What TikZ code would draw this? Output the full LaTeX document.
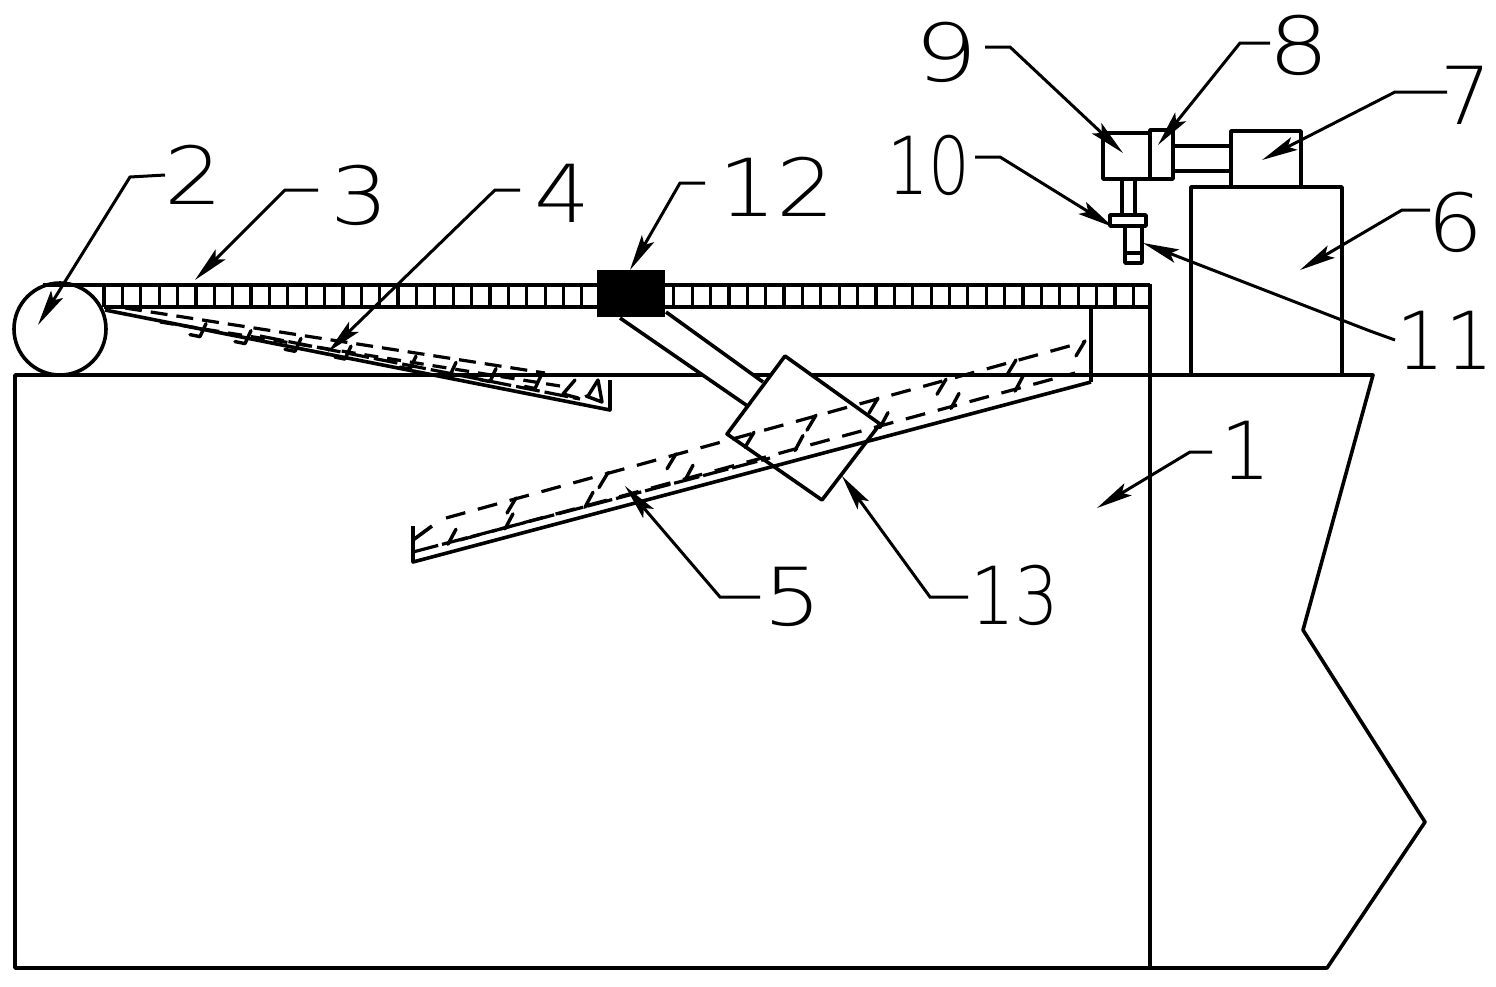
\documentclass[tikz,border=0pt]{standalone}
\usepackage{fontspec}
\usepackage{graphicx}
\newfontfamily\labfont{DejaVu Sans ExtraLight}
\usetikzlibrary{arrows.meta}
\tikzset{
  part/.style={draw=black,line width=3.6pt,line join=round},
  thin part/.style={draw=black,line width=3.2pt},
  hatch/.style={draw=black,line width=3.4pt,line cap=round,line join=round},
  dashrow/.style={draw=black,line width=3.2pt,dash pattern=on 20pt off 13pt},
  leaderline/.style={draw=black,line width=3pt,-{Stealth[length=36pt,width=14pt,inset=7pt]}},
  numlabel/.style={font=\labfont\fontsize{80}{84}\selectfont,inner sep=0pt,text=black}
}
\newcommand{\leadto}[7]{%
  \node[numlabel] (lab#1) at (#4) {\scalebox{#3}[1]{#2}};
  \coordinate (start#1) at (#5);
  \coordinate (elbow#1) at (#6);
  \coordinate (tip#1) at (#7);
  \draw[leaderline] (start#1) -- (elbow#1) -- (tip#1);
}
\begin{document}
\begin{tikzpicture}[x=1pt,y=-1pt]
\useasboundingbox (0,0) rectangle (1496,986);
\fill[white] (0,0) rectangle (1496,986);
% body
\draw[part] (15,375) -- (1373,375) -- (1303,630) -- (1425,822) -- (1327,968) -- (15,968) -- cycle;
\draw[part] (1150,284) -- (1150,968);
% wheel and belt
\draw[part] (60,329) circle (46);
\draw[part] (43,285) -- (1150,285);
\draw[part] (104,307) -- (1150,307);
\foreach \i in {0,...,56}{
  \pgfmathsetmacro\xx{104+18.38*\i}
  \draw[thin part] (\xx,285) -- (\xx,307);
}
% arm and swinging box
\fill[white] (620,318) -- (749,407) -- (763,382) -- (666,312) -- cycle;
\draw[part] (620,318) -- (749,407);
\draw[part] (666,312) -- (763,382);
\draw[part,fill=white] (785,356) -- (880,424) -- (822,500) -- (727,434) -- cycle;
\fill[black] (597,270) rectangle (665,317);
% support
\draw[part] (1091,307) -- (1091,382);
% ramp 4
\draw[part] (105,310) -- (610,410) -- (610,380);
\draw[dashrow,dash pattern=on 24pt off 5pt] (260,336) -- (580,399);
\draw[dashrow,dash pattern=on 17pt off 9pt] (125,308) -- (545,373);
\draw[dashrow,dash pattern=on 14pt off 9pt] (160,322) -- (560,386);
\foreach \x in {200,245,295,345,410,450,490,535}{
  \pgfmathsetmacro\yy{311+0.155*(\x-125)}
  \draw[hatch] (\x+6,\yy+1) -- (\x,\yy+14) -- (\x-10,\yy+12);
}
\draw[hatch] (588,396) -- (598,380) -- (602,402) -- (586,396);
\draw[hatch] (575,380) -- (563,394) -- (578,398);
% ramp 5
\draw[part] (413,526) -- (413,562) -- (1091,382);
\draw[dashrow,dash pattern=on 26pt off 4pt] (413,552) -- (770,458);
\draw[part] (413,540) -- (432,526);
\draw[dashrow] (446,518) -- (1084,342);
\draw[dashrow] (460,540) -- (1075,373);
\foreach \x in {515,607,675,753,815,877,945,1015,1084}{
  \pgfmathsetmacro\yy{518-0.276*(\x-446)}
  \draw[hatch] (\x+1,\yy-1) -- (\x-8,\yy+14);
}
\foreach \x in {448,505,585,685,795,880,951,1015}{
  \pgfmathsetmacro\yy{540-0.27*(\x-460)}
  \draw[hatch] (\x+8,\yy-14) -- (\x,\yy+1);
}
% upper right assembly
\draw[part] (1191,375) -- (1191,187) -- (1342,187) -- (1342,375);
\draw[part] (1231,187) -- (1231,131) -- (1301,131) -- (1301,187);
\draw[part] (1173,146) -- (1231,146);
\draw[part] (1173,171) -- (1231,171);
\draw[part] (1103,133) rectangle (1150,179);
\draw[part] (1150,130) rectangle (1173,179);
\draw[part] (1122,179) -- (1122,215);
\draw[part] (1135,179) -- (1135,215);
\draw[part] (1110,215) rectangle (1146,226);
\draw[part] (1125,226) rectangle (1142,263);
\draw[part] (1125,253) -- (1142,253);
% leaders and labels
\leadto{1}{1}{1.0}{1246,450}{1212,452}{1190,452}{1097,508}
\leadto{2}{2}{1.15}{194,175}{165,175}{130,177}{38,325}
\leadto{3}{3}{1.15}{360,195}{318,190}{285,190}{195,280}
\leadto{4}{4}{1.1}{562,193}{520,190}{495,190}{328,352}
\leadto{5}{5}{1.15}{793,597}{760,597}{720,597}{625,486}
\leadto{6}{6}{1.1}{1455,222}{1430,210}{1402,210}{1300,270}
\leadto{7}{7}{1.0}{1466,95}{1447,92}{1395,92}{1262,160}
\leadto{8}{8}{1.2}{1299,45}{1270,43}{1240,43}{1158,145}
\leadto{9}{9}{1.25}{946,52}{985,47}{1010,47}{1123,153}
\leadto{10}{10}{0.82}{929,165}{975,157}{1000,157}{1113,227}
\leadto{11}{11}{0.95}{1445,340}{1395,340}{1370,331}{1143,243}
\leadto{12}{12}{1.15}{777,187}{705,183}{680,183}{630,270}
\leadto{13}{13}{0.88}{1015,595}{968,597}{930,597}{842,476}
\end{tikzpicture}
\end{document}
